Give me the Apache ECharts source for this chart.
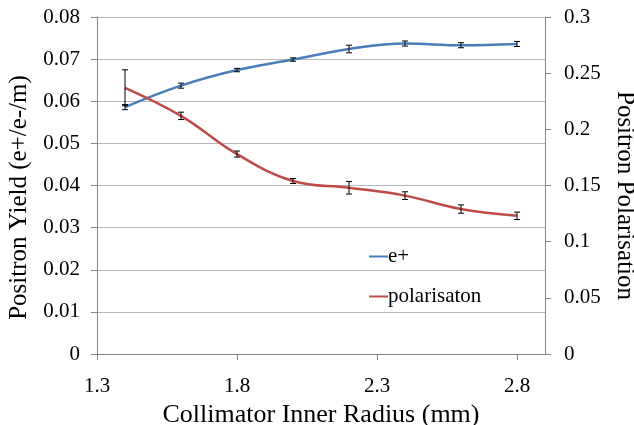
<!DOCTYPE html>
<html>
<head>
<meta charset="utf-8">
<script src="https://cdn.jsdelivr.net/npm/echarts@6/dist/echarts.min.js"></script>
<style>
  html, body { margin: 0; padding: 0; background: #fff; }
  #chart { width: 634px; height: 425px; }
</style>
</head>
<body>
<div id="chart"></div>
<script>
// collimator inner radius (mm)
var radius = [1.4, 1.6, 1.8, 2.0, 2.2, 2.4, 2.6, 2.8];
// positron yield (e+/e-/m), left axis
var yieldVals = [0.0586, 0.0637, 0.0674, 0.0699, 0.0724, 0.0737, 0.0733, 0.0736];
var yieldErr = [0.0006, 0.0006, 0.0004, 0.0004, 0.0009, 0.0006, 0.0006, 0.0006];
// positron polarisation, right axis
var polVals = [0.237, 0.212, 0.178, 0.154, 0.148, 0.141, 0.129, 0.123];
var polErr = [0.016, 0.0033, 0.0027, 0.0022, 0.0056, 0.0034, 0.0037, 0.0033];

var serif = '"Liberation Serif", "DejaVu Serif", serif';
var blue = '#4A7EBB';
var red = '#BE4B48';

function pairs(xs, ys) {
  return xs.map(function (x, i) { return [x, ys[i]]; });
}
function errData(xs, ys, es) {
  return xs.map(function (x, i) { return [x, ys[i] - es[i], ys[i] + es[i]]; });
}

// vertical error bar with caps
function renderErr(params, api) {
  var lo = api.coord([api.value(0), api.value(1)]);
  var hi = api.coord([api.value(0), api.value(2)]);
  var w = 3;
  var st = { stroke: '#000', lineWidth: 1 };
  return {
    type: 'group',
    children: [
      { type: 'line', shape: { x1: lo[0], y1: lo[1], x2: hi[0], y2: hi[1] }, style: st },
      { type: 'line', shape: { x1: lo[0] - w, y1: lo[1], x2: lo[0] + w, y2: lo[1] }, style: st },
      { type: 'line', shape: { x1: hi[0] - w, y1: hi[1], x2: hi[0] + w, y2: hi[1] }, style: st }
    ]
  };
}

var axisLineGrey = { show: true, lineStyle: { color: '#868686', width: 1 } };

var myChart = echarts.init(document.getElementById('chart'));
var option = {
  animation: false,
  backgroundColor: '#fff',
  textStyle: { fontFamily: serif },
  grid: { left: 97, right: 89, top: 17, bottom: 71, outerBoundsMode: 'none', containLabel: false },
  legend: {
    data: ['e+', 'polarisaton'],
    orient: 'vertical',
    left: 369,
    top: 246,
    padding: 0,
    icon: 'rect',
    itemWidth: 19,
    itemHeight: 2,
    itemGap: 19,
    textStyle: { fontFamily: serif, fontSize: 21, color: '#000', padding: [0, 0, 0, -5] }
  },
  xAxis: {
    type: 'value',
    min: 1.3,
    max: 2.9,
    interval: 0.5,
    name: 'Collimator Inner Radius (mm)',
    nameLocation: 'middle',
    nameGap: 39,
    nameTextStyle: { fontFamily: serif, fontSize: 26, color: '#000' },
    axisLine: axisLineGrey,
    axisTick: { show: true, length: 6, lineStyle: { color: '#868686' } },
    axisLabel: {
      fontFamily: serif, fontSize: 21, color: '#000', margin: 22,
      showMaxLabel: false,
      formatter: function (v) { return v.toFixed(1); }
    },
    splitLine: { show: false }
  },
  yAxis: [{
    type: 'value',
    min: 0,
    max: 0.08,
    interval: 0.01,
    position: 'left',
    name: 'Positron Yield (e+/e-/m)',
    nameLocation: 'middle',
    nameGap: 60,
    nameTextStyle: { fontFamily: serif, fontSize: 25, color: '#000', padding: [0, 24, 0, 0] },
    axisLine: axisLineGrey,
    axisTick: { show: true, length: 6, lineStyle: { color: '#868686' } },
    axisLabel: {
      fontFamily: serif, fontSize: 21, color: '#000', margin: 17,
      formatter: function (v) { return v === 0 ? '0' : v.toFixed(2); }
    },
    splitLine: { show: true, lineStyle: { color: '#B8B8B8', width: 1 } }
  }, {
    type: 'value',
    min: 0,
    max: 0.3,
    interval: 0.05,
    position: 'right',
    name: 'Positron Polarisation',
    nameLocation: 'middle',
    nameRotate: -90,
    nameGap: 61,
    nameTextStyle: { fontFamily: serif, fontSize: 25, color: '#000', padding: [0, 0, 0, 20] },
    axisLine: axisLineGrey,
    axisTick: { show: true, length: 6, lineStyle: { color: '#868686' } },
    axisLabel: {
      fontFamily: serif, fontSize: 21, color: '#000', margin: 19,
      formatter: function (v) { return v === 0 ? '0' : String(parseFloat(v.toFixed(2))); }
    },
    splitLine: { show: false }
  }],
  series: [{
    name: 'e+',
    type: 'line',
    yAxisIndex: 0,
    smooth: 0.4,
    showSymbol: false,
    color: blue,
    lineStyle: { color: blue, width: 2.5 },
    data: pairs(radius, yieldVals),
    z: 2
  }, {
    name: 'polarisaton',
    type: 'line',
    yAxisIndex: 1,
    smooth: 0.4,
    showSymbol: false,
    color: red,
    lineStyle: { color: red, width: 2.5 },
    data: pairs(radius, polVals),
    z: 3
  }, {
    name: 'e+ err',
    type: 'custom',
    yAxisIndex: 0,
    renderItem: renderErr,
    data: errData(radius, yieldVals, yieldErr),
    z: 5
  }, {
    name: 'pol err',
    type: 'custom',
    yAxisIndex: 1,
    renderItem: renderErr,
    data: errData(radius, polVals, polErr),
    z: 5
  }]
};
myChart.setOption(option);
</script>
</body>
</html>
